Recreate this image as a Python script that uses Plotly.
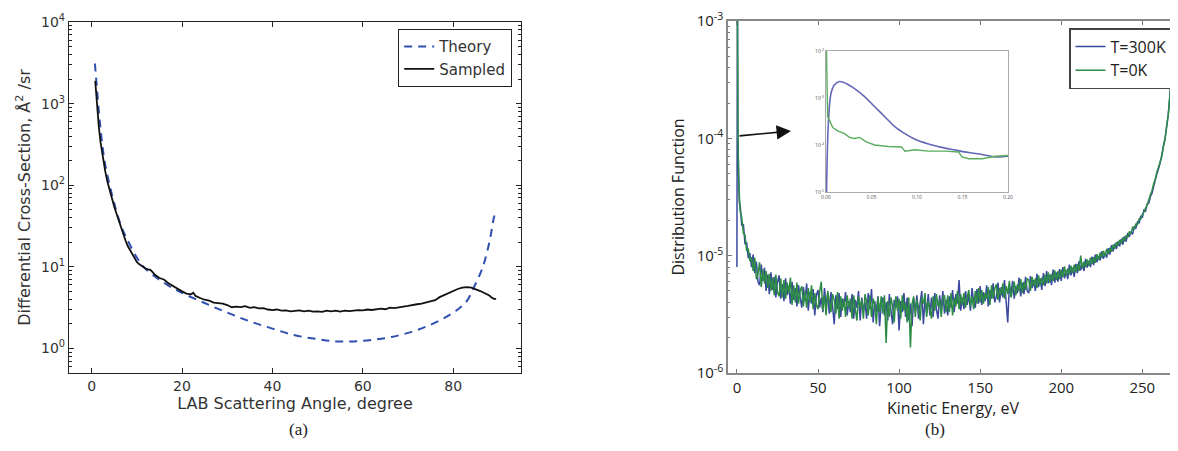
import plotly.graph_objects as go

# page body has an 8px default margin; figure is sized/positioned to compensate
PAGE_W, PAGE_H, OFF = 1178, 451, 8
W, H = PAGE_W - OFF, PAGE_H - OFF

# ---------------- Panel (a) data ----------------
theory_angle = [0.73, 1.2, 1.6, 2.0, 2.4, 3.0, 4.0, 5.0, 6.6, 8.0, 10.0, 11.5, 14.0, 17.0, 20.0,
                25.0, 30.0, 35.0, 40.0, 45.0, 50.0, 54.0, 58.0, 62.0, 66.0, 70.0, 74.0, 78.0,
                81.0, 83.0, 84.5, 86.0, 86.8, 88.0, 88.5, 89.0, 89.4]
theory_dcs = [3100, 1500, 800, 480, 300, 180, 100, 60, 31, 21, 13, 10, 7.6, 5.9, 4.8,
              3.6, 2.75, 2.15, 1.75, 1.45, 1.3, 1.22, 1.22, 1.27, 1.37, 1.55, 1.85, 2.35,
              3.0, 3.8, 5.5, 8.3, 11, 20, 28, 40, 46]

sampled_angle = [0.8, 1.2, 1.6, 2.0, 2.5, 3.0, 3.5, 4.0, 4.5, 5.0, 5.5, 6.0, 6.5, 7.0, 7.5, 8.0,
                 8.5, 9.0, 9.5, 10.0, 10.5, 11.0, 11.5, 12.0, 12.5, 13.0, 13.5, 14.0, 15.0, 16.0,
                 17.0, 18.0, 19.0, 20.0, 21.0, 22.0, 22.5, 23.0, 24.0, 25.0, 26.0, 27.0, 28.0,
                 29.0, 30.0, 31.0, 32.0, 33.0, 34.0, 35.0, 36.0, 37.0, 38.0, 39.0, 40.0, 41.0,
                 42.0, 43.0, 44.0, 45.0, 46.0, 47.0, 48.0, 49.0, 50.0, 51.0, 52.0, 53.0, 54.0,
                 55.0, 56.0, 57.0, 58.0, 59.0, 60.0, 61.0, 62.0, 63.0, 64.0, 65.0, 66.0, 67.0,
                 68.0, 69.0, 70.0, 71.0, 72.0, 73.0, 74.0, 75.0, 76.0, 77.0, 78.0, 79.0, 80.0,
                 81.0, 82.0, 83.0, 84.0, 85.0, 86.0, 87.0, 88.0, 88.5, 89.0, 89.5]
sampled_dcs = [1900, 900, 520, 330, 210, 150, 110, 85, 68, 55, 45, 37, 30, 24, 21, 18,
               16, 14.5, 13, 11.5, 10.8, 10.3, 10.0, 9.5, 9.3, 9.2, 8.6, 8.0, 7.3, 7.0,
               6.3, 5.8, 5.4, 5.0, 4.7, 4.6, 4.8, 4.4, 4.15, 3.95, 3.85, 3.65, 3.6,
               3.55, 3.4, 3.2, 3.25, 3.2, 3.3, 3.15, 3.2, 3.1, 3.12, 3.0, 2.95, 3.0,
               2.9, 2.92, 2.85, 2.9, 2.92, 2.84, 2.9, 2.82, 2.85, 2.8, 2.9, 2.85, 2.9,
               2.82, 2.9, 2.86, 2.92, 2.95, 2.92, 3.0, 2.96, 3.02, 3.08, 3.02, 3.16, 3.12,
               3.22, 3.26, 3.32, 3.42, 3.48, 3.55, 3.65, 3.72, 3.9, 4.25, 4.5, 4.8, 5.05,
               5.35, 5.55, 5.65, 5.55, 5.35, 5.05, 4.75, 4.45, 4.2, 4.05, 4.05]

# ---------------- Panel (b) data ----------------
ke_head = [0, 0.3, 0.6, 1, 1.5, 2, 3, 4, 5, 6, 7, 8, 9]
ke_body = list(range(10, 261))
ke_tail = [261, 262, 263, 264, 265, 266, 267, 268, 269, 270, 271, 272]
kinetic_energy = ke_head + ke_body + ke_tail

# distribution function values in units of 1e-6
dist_300K_e6 = [8, 2000, 105, 55, 28, 27, 18, 18.5, 12.5, 13, 9.5, 10.5, 8.0,
    10.2, 7.1, 8.9, 6.0, 5.6, 8.4, 6.1, 7.9, 5.0, 6.9,
    4.7, 7.2, 5.1, 6.6, 4.4, 5.9, 6.8, 4.3, 5.7, 4.1,
    6.4, 4.6, 5.5, 3.9, 6.0, 4.2, 5.3, 3.7, 5.6, 4.4,
    3.6, 5.4, 4.1, 5.8, 3.4, 4.9, 3.9, 5.2, 3.1, 4.6,
    5.1, 3.6, 4.4, 3.3, 5.3, 3.8, 4.7, 3.2, 4.9, 3.7,
    2.6, 4.6, 3.5, 4.8, 3.0, 4.3, 3.7, 4.9, 3.1, 4.1,
    3.3, 4.7, 2.9, 4.2, 3.6, 5.0, 2.8, 4.4, 3.4, 4.0,
    2.9, 4.8, 3.5, 5.2, 2.7, 4.1, 3.3, 4.5, 2.5, 3.9,
    4.4, 3.1, 4.0, 2.8, 4.7, 3.4, 2.6, 4.2, 3.6, 4.5,
    2.3, 4.1, 3.3, 4.8, 3.0, 4.4, 2.8, 3.9, 2.5, 4.3,
    3.4, 4.6, 2.9, 4.0, 5.0, 2.6, 4.2, 3.3, 4.7, 3.1,
    4.4, 3.0, 4.8, 3.5, 2.9, 4.6, 3.6, 5.0, 3.2, 4.2,
    3.1, 4.5, 3.6, 5.1, 3.3, 4.7, 3.9, 6.2, 3.4, 4.4,
    3.5, 5.0, 3.8, 4.6, 3.4, 5.3, 4.0, 3.6, 5.2, 3.9,
    5.5, 3.8, 4.9, 4.1, 5.6, 3.7, 5.1, 4.3, 5.8, 4.0,
    4.5, 5.9, 4.0, 5.4, 4.4, 6.2, 4.1, 2.7, 5.6, 4.6,
    6.1, 4.3, 5.5, 4.8, 6.5, 4.5, 5.9, 4.7, 6.6, 5.0,
    4.8, 6.7, 5.3, 6.2, 5.0, 7.0, 5.4, 6.4, 5.1, 7.1,
    5.5, 7.4, 5.8, 6.9, 5.6, 7.6, 5.9, 7.2, 6.0, 7.7,
    6.1, 8.0, 6.4, 7.5, 6.3, 8.4, 6.8, 7.9, 6.6, 8.5,
    7.1, 9.0, 7.5, 8.6, 7.4, 9.4, 7.9, 9.0, 8.0, 9.8,
    8.3, 10.2, 8.8, 9.9, 9.1, 10.9, 9.4, 10.5, 9.6, 11.6,
    10.2, 12.3, 10.9, 12.6, 11.4, 13.2, 12.0, 13.9, 12.4, 14.6,
    13.2, 15.6, 14.5, 16.0, 15.2, 17.8, 17.0, 19.5, 18.9, 21.8,
    21.0, 24.5, 24.0, 27.5, 28.0, 32.0, 34.0, 39.0, 44.0, 50.0,
    55,
    62, 72, 85, 100, 125, 160, 230, 350, 500, 700, 1000, 1500]

dist_0K_e6 = [2000, 1800, 120, 48, 33, 24, 21, 15.5, 15, 11, 11.5, 9.0, 9.7,
    7.4, 9.6, 6.3, 7.0, 8.8, 5.4, 7.6, 5.8, 7.4, 5.3,
    7.0, 5.0, 6.5, 4.6, 6.9, 4.9, 4.5, 6.4, 4.4, 6.2,
    4.3, 5.9, 4.8, 6.5, 3.8, 5.6, 4.0, 5.9, 3.9, 5.0,
    5.5, 3.7, 5.0, 3.6, 5.3, 4.0, 5.6, 3.5, 4.8, 3.8,
    3.5, 4.9, 6.0, 3.4, 4.6, 3.1, 5.0, 4.1, 3.3, 4.7,
    4.2, 3.2, 4.9, 2.9, 4.5, 3.4, 4.3, 3.0, 4.6, 3.6,
    4.3, 2.9, 4.6, 3.5, 2.8, 4.5, 3.6, 4.2, 2.9, 4.7,
    4.0, 3.1, 4.6, 3.0, 4.3, 3.8, 2.6, 4.4, 3.3, 4.5,
    3.2, 4.6, 1.8, 4.1, 3.0, 4.4, 3.7, 2.7, 4.5, 3.4,
    4.3, 2.9, 4.6, 3.4, 4.0, 2.7, 4.4, 1.65, 3.9, 4.5,
    3.0, 4.2, 3.6, 2.8, 4.4, 3.9, 4.8, 3.0, 4.1, 3.5,
    2.9, 4.5, 3.4, 4.7, 3.7, 4.2, 3.0, 4.4, 4.6, 3.3,
    4.6, 3.3, 4.8, 3.1, 4.4, 3.7, 5.0, 3.5, 4.7, 3.8,
    4.8, 3.6, 4.4, 5.1, 3.7, 4.5, 3.5, 5.0, 3.9, 5.3,
    4.0, 5.1, 3.9, 4.8, 4.3, 5.4, 3.8, 5.6, 4.3, 5.2,
    5.7, 4.2, 5.3, 4.6, 5.8, 4.3, 5.5, 4.7, 6.1, 4.4,
    5.1, 6.0, 4.6, 5.7, 5.0, 6.3, 4.8, 6.0, 5.1, 6.4,
    6.2, 5.0, 6.6, 5.5, 6.4, 5.3, 6.8, 5.6, 6.5, 5.6,
    6.9, 5.8, 7.2, 5.9, 7.0, 6.1, 7.5, 6.2, 7.4, 6.3,
    7.6, 6.6, 8.1, 6.7, 7.8, 6.9, 8.2, 7.1, 8.4, 7.2,
    8.5, 7.4, 10.0, 7.8, 8.9, 8.0, 9.3, 8.2, 9.6, 8.5,
    9.7, 8.7, 10.3, 9.2, 10.6, 9.6, 11.0, 9.9, 11.4, 10.3,
    11.7, 10.8, 12.4, 11.5, 13.0, 12.1, 13.6, 12.7, 14.3, 13.2,
    14.9, 14.3, 16.1, 15.4, 17.4, 16.9, 18.6, 18.5, 20.6, 20.4,
    22.5, 23.5, 25.5, 27.0, 30.0, 33.0, 36.0, 41.0, 45.0, 52.0,
    57,
    63, 70, 86, 98, 128, 158, 235, 345, 510, 690, 1020, 1500]

# inset (low-energy zoom)
inset_ke_300K = [0.0005, 0.0026, 0.0055, 0.0092, 0.0148, 0.0221, 0.0314, 0.0424, 0.0535, 0.0646,
                 0.0756, 0.0867, 0.0978, 0.1125, 0.1273, 0.1421, 0.1568, 0.1716, 0.1863, 0.2000]
inset_df_300K = [8e-6, 2.9e-4, 1.26e-3, 1.9e-3, 2.24e-3, 2.04e-3, 1.58e-3, 1.07e-3, 6.5e-4, 4.0e-4,
                 2.45e-4, 1.74e-4, 1.32e-4, 1.05e-4, 8.9e-5, 7.8e-5, 6.9e-5, 6.3e-5, 5.6e-5, 5.75e-5]
inset_ke_0K = [0.0004, 0.0018, 0.0037, 0.0074, 0.0129, 0.0203, 0.0258, 0.0314, 0.0369, 0.0443,
               0.0535, 0.0683, 0.0830, 0.0867, 0.0978, 0.1125, 0.1310, 0.1458, 0.1494, 0.1568,
               0.1716, 0.1790, 0.1863, 0.2000]
inset_df_0K = [1.3e-2, 4.0e-4, 3.4e-4, 2.35e-4, 2.0e-4, 1.74e-4, 1.45e-4, 1.38e-4, 1.45e-4, 1.17e-4,
               1.0e-4, 9.3e-5, 9.1e-5, 7.4e-5, 7.9e-5, 7.4e-5, 7.4e-5, 7.1e-5, 5.6e-5, 5.1e-5,
               5.1e-5, 5.4e-5, 5.75e-5, 6.0e-5]

x_ticks_a = [0, 20, 40, 60, 80]
y_ticks_a = [1, 10, 100, 1000, 10000]
y_labels_a = ["10<sup>0</sup>", "10<sup>1</sup>", "10<sup>2</sup>", "10<sup>3</sup>", "10<sup>4</sup>"]
x_ticks_b = [0, 50, 100, 150, 200, 250]
y_ticks_b = [1e-6, 1e-5, 1e-4, 1e-3]
y_labels_b = ["10<sup>-6</sup>", "10<sup>-5</sup>", "10<sup>-4</sup>", "10<sup>-3</sup>"]
inset_x_ticks = [0.00, 0.05, 0.10, 0.15, 0.20]
inset_y_ticks = [1e-5, 1e-4, 1e-3, 1e-2]
inset_y_labels = ["10<sup>-5</sup>", "10<sup>-4</sup>", "10<sup>-3</sup>", "10<sup>-2</sup>"]

# ---------------- figure ----------------
def px_x(p):
    return (p - OFF) / W

def px_y(p):
    return 1 - (p - OFF) / H

fig = go.Figure()

fig.add_trace(go.Scatter(x=theory_angle, y=theory_dcs, mode="lines", name="Theory",
                         line=dict(color="#2f4fb0", width=2, dash="8px,6px", shape="spline"),
                         xaxis="x", yaxis="y", legend="legend"))
fig.add_trace(go.Scatter(x=sampled_angle, y=sampled_dcs, mode="lines", name="Sampled",
                         line=dict(color="#111111", width=1.8),
                         xaxis="x", yaxis="y", legend="legend"))

y300 = [v * 1e-6 for v in dist_300K_e6]
y0 = [v * 1e-6 for v in dist_0K_e6]
fig.add_trace(go.Scatter(x=kinetic_energy, y=y300, mode="lines", name="T=300K",
                         line=dict(color="#3a48a0", width=1.5, simplify=False),
                         xaxis="x2", yaxis="y2", legend="legend2"))
fig.add_trace(go.Scatter(x=kinetic_energy, y=y0, mode="lines", name="T=0K",
                         line=dict(color="#2c8c46", width=1.5, simplify=False),
                         xaxis="x2", yaxis="y2", legend="legend2"))

fig.add_trace(go.Scatter(x=inset_ke_300K, y=inset_df_300K, mode="lines", showlegend=False,
                         line=dict(color="#6466b8", width=1.6, shape="spline"),
                         xaxis="x3", yaxis="y3"))
fig.add_trace(go.Scatter(x=inset_ke_0K, y=inset_df_0K, mode="lines", showlegend=False,
                         line=dict(color="#5aad5f", width=1.4),
                         xaxis="x3", yaxis="y3"))

font_a = "DejaVu Sans"
font_b = "Open Sans"

fig.update_layout(
    width=W, height=H,
    margin=dict(l=0, r=0, t=0, b=0, autoexpand=False),
    paper_bgcolor="white", plot_bgcolor="white",
    showlegend=True,
    xaxis=dict(domain=[px_x(69), px_x(521)], range=[-5, 95], tickvals=x_ticks_a,
               ticks="inside", ticklen=5, tickcolor="#222", showline=True, linecolor="#222",
               linewidth=1.3, mirror="ticks", showgrid=False, zeroline=False, automargin=False,
               tickfont=dict(family=font_a, size=14, color="#333"),
               title=dict(text="LAB Scattering Angle, degree", standoff=4,
                          font=dict(family=font_a, size=16, color="#333")),
               anchor="y"),
    yaxis=dict(domain=[px_y(373), px_y(22)], type="log", range=[-0.301, 4],
               tickvals=y_ticks_a, ticktext=y_labels_a,
               ticks="inside", ticklen=5, tickcolor="#222",
               minor=dict(ticks="inside", ticklen=3, dtick="D1", tickcolor="#222", showgrid=False),
               showline=True, linecolor="#222", linewidth=1.3, mirror="ticks",
               showgrid=False, zeroline=False, automargin=False,
               tickfont=dict(family=font_a, size=14, color="#333"),
               title=dict(text="Differential Cross-Section, Å<sup>2</sup> /sr", standoff=6,
                          font=dict(family=font_a, size=16, color="#333")),
               anchor="x"),
    xaxis2=dict(domain=[px_x(728), 1.0], range=[-5.5, 272], tickvals=x_ticks_b,
                ticks="inside", ticklen=4, tickcolor="#777", showline=True, linecolor="#888",
                linewidth=1.5, mirror="ticks", showgrid=False, zeroline=False, automargin=False,
                tickfont=dict(family=font_b, size=15, color="#222"),
                title=dict(text="Kinetic Energy, eV", standoff=4,
                           font=dict(family=font_b, size=16, color="#222")),
                anchor="y2"),
    yaxis2=dict(domain=[px_y(373), px_y(21)], type="log", range=[-6, -3],
                tickvals=y_ticks_b, ticktext=y_labels_b,
                ticks="inside", ticklen=4, tickcolor="#777",
                minor=dict(ticks="inside", ticklen=2, dtick="D1", tickcolor="#777", showgrid=False),
                showline=True, linecolor="#888", linewidth=1.5, mirror=False,
                showgrid=False, zeroline=False, automargin=False,
                tickfont=dict(family=font_b, size=15, color="#222"),
                title=dict(text="Distribution Function", standoff=8,
                           font=dict(family=font_b, size=16, color="#222")),
                anchor="x2"),
    xaxis3=dict(domain=[px_x(826), px_x(1008)], range=[0, 0.2], tickvals=inset_x_ticks,
                tickformat=".2f", ticks="", showline=True, linecolor="#aaa", linewidth=1.2,
                mirror=True, showgrid=False, zeroline=False, automargin=False,
                tickfont=dict(family=font_b, size=5, color="#555"), anchor="y3"),
    yaxis3=dict(domain=[px_y(192), px_y(51)], type="log", range=[-5, -2],
                tickvals=inset_y_ticks, ticktext=inset_y_labels,
                ticks="", showline=True, linecolor="#aaa", automargin=False,
                linewidth=1.2, mirror=True, showgrid=False, zeroline=False,
                tickfont=dict(family=font_b, size=5, color="#555"), anchor="x3"),
    legend=dict(x=px_x(512), y=px_y(29), xanchor="right", yanchor="top",
                bgcolor="white", bordercolor="#222", borderwidth=1.2,
                font=dict(family=font_a, size=15, color="#333"), tracegroupgap=0),
    legend2=dict(x=px_x(1173), y=px_y(28), xanchor="right", yanchor="top",
                 bgcolor="white", bordercolor="#444", borderwidth=1.5,
                 font=dict(family=font_b, size=16, color="#222"), tracegroupgap=0),
    annotations=[
        dict(text="(a)", x=px_x(287), y=px_y(441), xref="paper", yref="paper",
             showarrow=False, font=dict(family="Liberation Serif", size=17, color="#222")),
        dict(text="(b)", x=px_x(947), y=px_y(441), xref="paper", yref="paper",
             showarrow=False, font=dict(family="Liberation Serif", size=17, color="#222")),
        dict(text="", x=px_x(791), y=px_y(131), xref="paper", yref="paper",
             ax=-53, ay=5, showarrow=True, arrowhead=2, arrowsize=1.8, arrowwidth=1.6,
             arrowcolor="#111"),
    ],
)

fig.write_html("out.html")
